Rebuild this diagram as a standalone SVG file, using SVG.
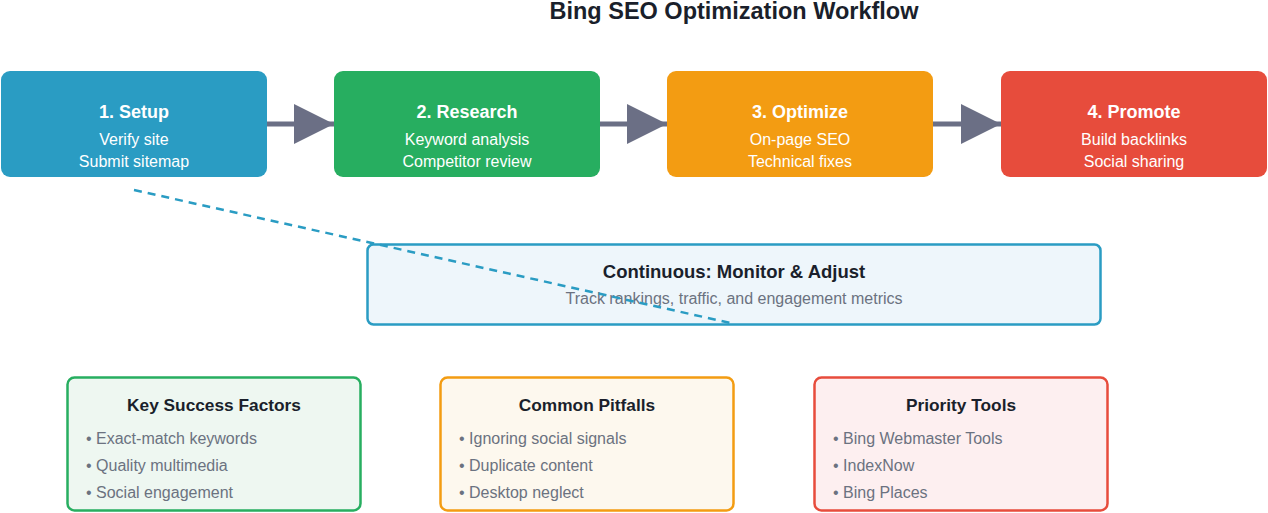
<svg xmlns="http://www.w3.org/2000/svg" width="1268" height="513" viewBox="0 0 1268 513">
<style>
text{font-family:"Liberation Sans",Arial,sans-serif}
.t{font-size:18px;font-weight:bold;fill:#fff;text-anchor:middle}
.s{font-size:16px;fill:#fff;text-anchor:middle}
.h{font-size:18.5px;font-weight:bold;fill:#1a1f2b;text-anchor:middle}
.h2{font-size:17.3px;font-weight:bold;fill:#1a1f2b;text-anchor:middle}
.b{font-size:16px;fill:#6b7280}
.flow{stroke:#6b6f85;stroke-width:5;fill:none}
</style>
<defs>
<marker id="a2" viewBox="0 0 10 10" refX="10" refY="5" markerWidth="8" markerHeight="8" orient="auto"><path d="M0,0L10,5L0,10z" fill="#6b6f85"/></marker>
</defs>
<text x="734" y="19" font-size="23.5" font-weight="bold" fill="#1a1f2b" text-anchor="middle">Bing SEO Optimization Workflow</text>
<g id="setup"><rect x="1" y="71" width="266" height="106" rx="9" fill="#2a9cc3"/><text class="t" x="134" y="118">1. Setup</text><text class="s" x="134" y="145">Verify site</text><text class="s" x="134" y="167">Submit sitemap</text></g>
<g id="research"><rect x="334" y="71" width="266" height="106" rx="9" fill="#27ae60"/><text class="t" x="467" y="118">2. Research</text><text class="s" x="467" y="145">Keyword analysis</text><text class="s" x="467" y="167">Competitor review</text></g>
<g id="optimize"><rect x="667" y="71" width="266" height="106" rx="9" fill="#f39c12"/><text class="t" x="800" y="118">3. Optimize</text><text class="s" x="800" y="145">On-page SEO</text><text class="s" x="800" y="167">Technical fixes</text></g>
<g id="promote"><rect x="1001" y="71" width="266" height="106" rx="9" fill="#e74c3c"/><text class="t" x="1134" y="118">4. Promote</text><text class="s" x="1134" y="145">Build backlinks</text><text class="s" x="1134" y="167">Social sharing</text></g>
<g id="monitor"><rect x="367.5" y="244.5" width="733" height="80" rx="6" fill="#eef6fb" stroke="#2a9cc3" stroke-width="2.5"/><text class="h" x="734" y="278">Continuous: Monitor &amp; Adjust</text><text class="b" x="734" y="304" text-anchor="middle">Track rankings, traffic, and engagement metrics</text></g>
<g id="factors"><rect x="67.5" y="377.5" width="293" height="133" rx="7" fill="#eef7f1" stroke="#27ae60" stroke-width="2.5"/><text class="h2" x="214" y="411">Key Success Factors</text><text class="b" x="86" y="444">• Exact-match keywords</text><text class="b" x="86" y="471">• Quality multimedia</text><text class="b" x="86" y="498">• Social engagement</text></g>
<g id="pitfalls"><rect x="440.5" y="377.5" width="293" height="133" rx="7" fill="#fdf8ee" stroke="#f39c12" stroke-width="2.5"/><text class="h2" x="587" y="411">Common Pitfalls</text><text class="b" x="459" y="444">• Ignoring social signals</text><text class="b" x="459" y="471">• Duplicate content</text><text class="b" x="459" y="498">• Desktop neglect</text></g>
<g id="tools"><rect x="814.5" y="377.5" width="293" height="133" rx="7" fill="#fdeff0" stroke="#e74c3c" stroke-width="2.5"/><text class="h2" x="961" y="411">Priority Tools</text><text class="b" x="833" y="444">• Bing Webmaster Tools</text><text class="b" x="833" y="471">• IndexNow</text><text class="b" x="833" y="498">• Bing Places</text></g>
<g id="connectors">
<path class="flow" d="M267,124H334" marker-end="url(#a2)"/>
<path class="flow" d="M600,124H667" marker-end="url(#a2)"/>
<path class="flow" d="M933,124H1001" marker-end="url(#a2)"/>
<path d="M134,190L735,324" stroke="#2a9cc3" stroke-width="2.5" stroke-dasharray="8,6" fill="none"/>
</g>
</svg>
